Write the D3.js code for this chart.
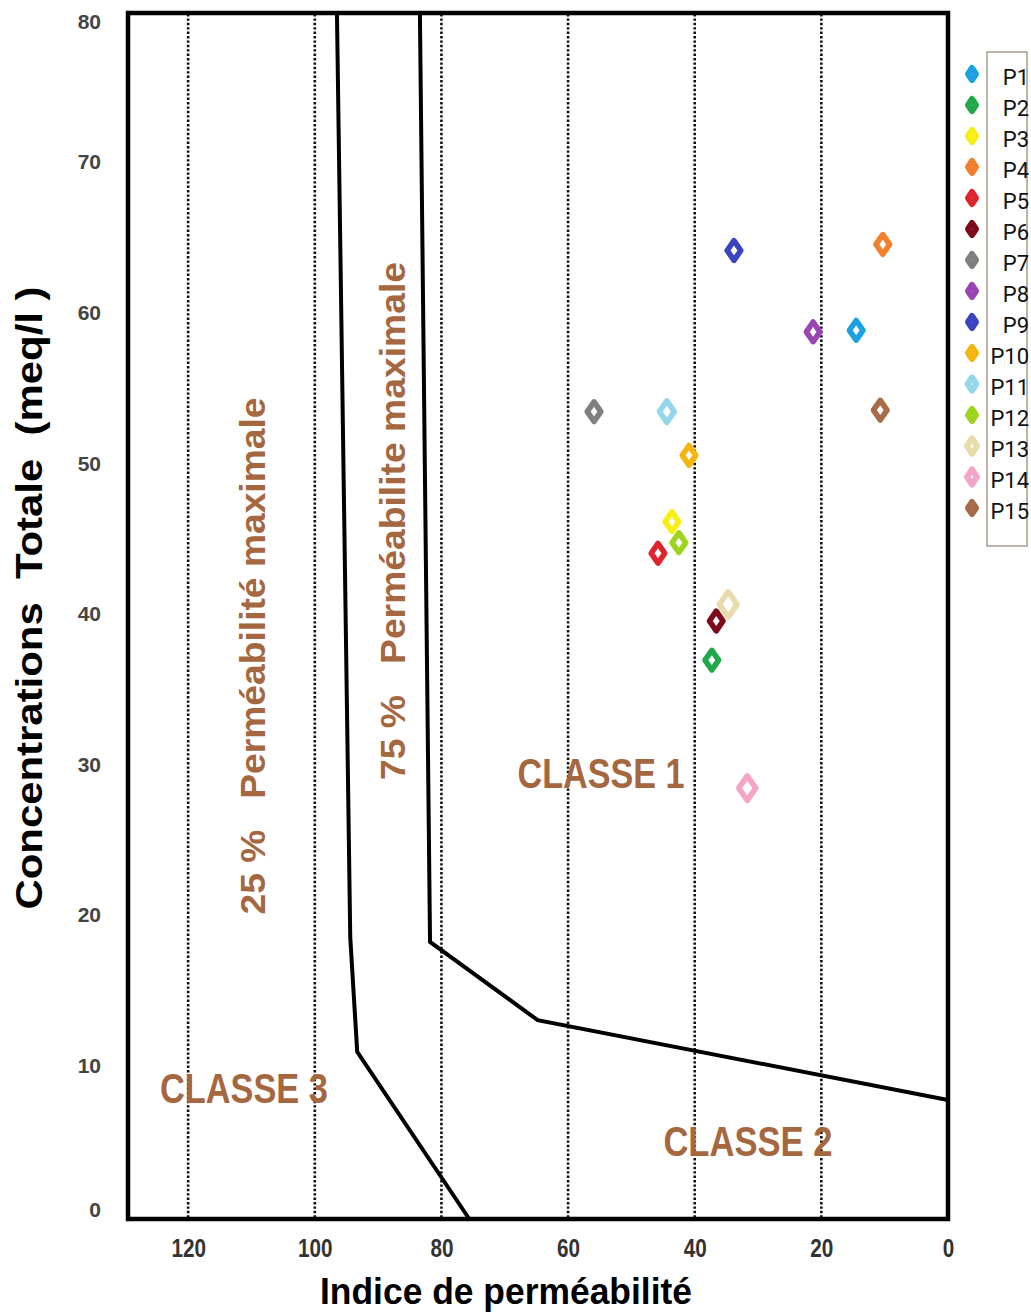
<!DOCTYPE html>
<html>
<head>
<meta charset="utf-8">
<script src="https://cdn.jsdelivr.net/npm/d3@7"></script>
<style>
	html, body { margin: 0; padding: 0; background: #fff; }
	svg { display: block; }
</style>
</head>
<body>
<svg id="svgChart" width="1031" height="1312"></svg>
<script>
// --- data ---
const pointNames = ["P1","P2","P3","P4","P5","P6","P7","P8","P9","P10","P11","P12","P13","P14","P15"];
// Indice de perméabilité (%)
const permIndex = [14.5, 37.3, 43.6, 10.3, 45.8, 36.6, 55.9, 21.3, 33.8, 40.9, 44.4, 42.5, 34.7, 31.7, 10.7];
// Concentrations totale (meq/l)
const totalConc = [59.0, 37.1, 46.3, 64.7, 44.2, 39.7, 53.6, 58.9, 64.3, 50.7, 53.6, 44.9, 40.8, 28.6, 53.7];

const xTickValues = [120, 100, 80, 60, 40, 20, 0];
const yTickValues = [0, 10, 20, 30, 40, 50, 60, 70, 80];

// class boundaries [indice, concentration]
const boundary25 = [[96.5, 80], [94.4, 18.7], [93.3, 11.1], [75.6, 0]];
const boundary75 = [[83.4, 80], [81.8, 18.4], [64.8, 13.2], [0, 7.9]];

class PermeabilityChart{
	/*
		Doneen diagram: points on a reversed permeability axis
	*/
	constructor(svgId, config = {}) {
		this.colors = ["#1ba1e2","#22a84a","#f7ef13","#f0802a","#e0242e","#7d0b1c","#7f7f7f",
						"#9b45b4","#3a44c0","#f5b50f","#94d7ea","#9ed31e","#e9dcab","#f4a5c5","#a86b48"];
		//bigger diamonds for P11, P13, P14
		this.markerScale = [1,1,1,1,1,1,1,1,1,1,1.1,1,1.3,1.25,1];
		this.labelColor = "#a5673f";
		this.narrow = "'Liberation Sans Narrow','Arial Narrow','Liberation Sans',Arial,sans-serif";

		this.svg = d3.select(svgId);
		this.x = d3.scaleLinear().domain([129.5, 0]).range([128, 948]);
		this.y = d3.scaleLinear().domain([0, 80]).range([1219, 14]);

		this._drawGrid();
		this._drawBoundaries();
		this._drawFrame();
		this._drawAxes();
		this._drawAnnotations();
		this._drawPoints();
		this._drawLegend();
	}
	_diamond(w, h){
		return "M0," + (-h) + "L" + w + ",0L0," + h + "L" + (-w) + ",0Z";
	}
	_drawGrid(){
		var that = this;
		this.svg.append("g").selectAll("line")
			.data(xTickValues.filter(function(d){ return d > 0; }))
			.enter().append("line")
			.attr("x1", function(d){ return that.x(d); })
			.attr("x2", function(d){ return that.x(d); })
			.attr("y1", this.y(80))
			.attr("y2", this.y(0))
			.style("stroke", "#111")
			.style("stroke-width", 2.6)
			.style("stroke-dasharray", "2.4,2");
	}
	_drawBoundaries(){
		var that = this;
		var line = d3.line()
			.x(function(d){ return that.x(d[0]); })
			.y(function(d){ return that.y(d[1]); });
		this.svg.append("g").selectAll("path")
			.data([boundary25, boundary75])
			.enter().append("path")
			.attr("d", line)
			.style("fill", "none")
			.style("stroke", "#000")
			.style("stroke-width", 4)
			.style("stroke-linejoin", "miter");
	}
	_drawFrame(){
		this.svg.append("rect")
			.attr("x", this.x(129.5))
			.attr("y", this.y(80) - 1)
			.attr("width", this.x(0) - this.x(129.5))
			.attr("height", this.y(0) - this.y(80) + 1)
			.style("fill", "none")
			.style("stroke", "#000")
			.style("stroke-width", 4.5);
	}
	_drawAxes(){
		var xAxis = this.svg.append("g")
			.attr("transform", "translate(0," + this.y(0) + ")")
			.call(d3.axisBottom(this.x).tickValues(xTickValues).tickSize(0).tickPadding(20));
		xAxis.select(".domain").remove();
		xAxis.selectAll("text")
			.attr("textLength", function(d){ return String(d).length * 11.5; })
			.attr("lengthAdjust", "spacingAndGlyphs")
			.style("font-family", this.narrow)
			.style("font-weight", "bold")
			.style("font-size", "25px")
			.style("fill", "#333");

		var yAxis = this.svg.append("g")
			.attr("transform", "translate(" + this.x(129.5) + ",0)")
			.call(d3.axisLeft(this.y).tickValues(yTickValues).tickSize(0).tickPadding(27));
		yAxis.select(".domain").remove();
		yAxis.selectAll("text")
			.attr("dy", "0.2em")
			.style("font-family", "'Liberation Sans',Arial,sans-serif")
			.style("font-weight", "bold")
			.style("font-size", "21px")
			.style("fill", "#444");
		//pull first and last label a bit into the frame
		yAxis.selectAll(".tick").filter(function(d){ return d === 80; })
			.select("text").attr("dy", "0.7em");
		yAxis.selectAll(".tick").filter(function(d){ return d === 0; })
			.select("text").attr("dy", "-0.1em");

		this.svg.append("text")
			.attr("x", 506).attr("y", 1304)
			.attr("text-anchor", "middle")
			.attr("textLength", 372).attr("lengthAdjust", "spacingAndGlyphs")
			.style("font-family", this.narrow)
			.style("font-weight", "bold")
			.style("font-size", "36px")
			.text("Indice de perméabilité");

		this.svg.append("text")
			.attr("transform", "translate(42,598) rotate(-90)")
			.attr("text-anchor", "middle")
			.attr("textLength", 623).attr("lengthAdjust", "spacingAndGlyphs")
			.style("font-family", this.narrow)
			.style("font-weight", "bold")
			.style("font-size", "37px")
			.style("white-space", "pre")
			.text("Concentrations  Totale  (meq/l )");
	}
	_drawAnnotations(){
		var that = this;
		var classes = [
			{text: "CLASSE 1", x: 54.8, y: 29.6, len: 167},
			{text: "CLASSE 2", x: 31.6, y: 5.2, len: 169},
			{text: "CLASSE 3", x: 111.2, y: 8.7, len: 168}
		];
		this.svg.append("g").selectAll("text")
			.data(classes)
			.enter().append("text")
			.attr("x", function(d){ return that.x(d.x); })
			.attr("y", function(d){ return that.y(d.y) + 15; })
			.attr("text-anchor", "middle")
			.attr("textLength", function(d){ return d.len; })
			.attr("lengthAdjust", "spacingAndGlyphs")
			.style("font-family", this.narrow)
			.style("font-weight", "bold")
			.style("font-size", "42px")
			.style("fill", this.labelColor)
			.text(function(d){ return d.text; });

		var rotated = [
			{text: "25 %   Perméabilité maximale", cx: 265, cy: 656, len: 517},
			{text: "75 %   Perméabilite maximale", cx: 405, cy: 521, len: 518}
		];
		this.svg.append("g").selectAll("text")
			.data(rotated)
			.enter().append("text")
			.attr("transform", function(d){ return "translate(" + d.cx + "," + d.cy + ") rotate(-90)"; })
			.attr("text-anchor", "middle")
			.attr("textLength", function(d){ return d.len; })
			.attr("lengthAdjust", "spacingAndGlyphs")
			.style("font-family", this.narrow)
			.style("font-weight", "bold")
			.style("font-size", "35px")
			.style("white-space", "pre")
			.style("fill", this.labelColor)
			.text(function(d){ return d.text; });
	}
	_drawPoints(){
		var that = this;
		this.svg.append("g").selectAll("path")
			.data(pointNames)
			.enter().append("path")
			.attr("transform", function(d, i){
				return "translate(" + that.x(permIndex[i]) + "," + that.y(totalConc[i]) + ")";
			})
			.attr("d", function(d, i){
				var s = that.markerScale[i];
				return that._diamond(6.8 * s, 9.8 * s);
			})
			.style("fill", "#fff")
			.style("stroke", function(d, i){ return that.colors[i]; })
			.style("stroke-width", 5.6)
			.style("stroke-linejoin", "round");
	}
	_drawLegend(){
		var that = this;
		var rows = d3.scalePoint().domain(pointNames).range([76, 510]);
		this.svg.append("rect")
			.attr("x", 987).attr("y", 52)
			.attr("width", 40).attr("height", 494)
			.style("fill", "none")
			.style("stroke", "#a89c8c")
			.style("stroke-width", 1.5);

		var items = this.svg.append("g").selectAll("g")
			.data(pointNames)
			.enter().append("g")
			.attr("transform", function(d){ return "translate(0," + rows(d) + ")"; });
		items.append("path")
			.attr("transform", "translate(972,-2)")
			.attr("d", function(d, i){
				var s = that.markerScale[i];
				return that._diamond(4 * s, 6 * s);
			})
			.style("fill", "#fff")
			.style("stroke", function(d, i){ return that.colors[i]; })
			.style("stroke-width", 6)
			.style("stroke-linejoin", "round");
		items.append("text")
			.attr("x", 1029)
			.attr("y", 9)
			.attr("text-anchor", "end")
			.style("font-family", "Roboto,'Liberation Sans',Arial,sans-serif")
			.style("font-size", "22px")
			.style("fill", "#111")
			.text(function(d){ return d; });
	}
}

var chart = new PermeabilityChart("#svgChart");
</script>
</body>
</html>
